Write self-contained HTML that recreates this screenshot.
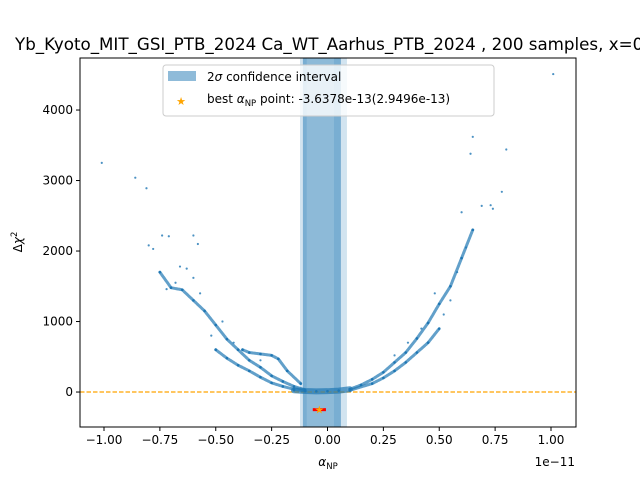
<!DOCTYPE html>
<html><head><meta charset="utf-8"><style>
body{margin:0;background:#fff;}
svg{display:block;font-family:"DejaVu Sans","Liberation Sans",sans-serif;}
</style></head><body>
<svg id="chart" width="640" height="480" viewBox="0 0 640 480">
<rect width="640" height="480" fill="#fff"/>
<text x="15" y="50" font-size="16.7">Yb_Kyoto_MIT_GSI_PTB_2024 Ca_WT_Aarhus_PTB_2024 , 200 samples, x=0</text>
<g id="plot"></g>
</svg>
<script>
const xTicks=[-1.0,-0.75,-0.5,-0.25,0,0.25,0.5,0.75,1.0];
const xTickLabels=["−1.00","−0.75","−0.50","−0.25","0.00","0.25","0.50","0.75","1.00"];
const yTicks=[0,1000,2000,3000,4000];
const yTickLabels=["0","1000","2000","3000","4000"];
const bandOuter=[-0.123,0.087];
const bandMid=[-0.110,0.060];
const bandInner=[-0.093,0.029];
const bestX=[-0.036378];
const bestErr=[0.029496];
const bestY=[-250];
const branchUL=[[-0.75,1700],[-0.7,1480],[-0.65,1450],[-0.6,1300],[-0.55,1150],[-0.5,950],[-0.45,750],[-0.4,600],[-0.35,450],[-0.3,350],[-0.25,230],[-0.2,150],[-0.15,80],[-0.1,30]];
const branchLL=[[-0.5,600],[-0.45,480],[-0.4,380],[-0.35,300],[-0.3,210],[-0.25,130],[-0.2,80],[-0.15,40],[-0.1,15]];
const branchMid=[[-0.38,600],[-0.35,560],[-0.3,540],[-0.25,520],[-0.22,470],[-0.18,300],[-0.12,120]];
const branchFlat=[[-0.15,25],[-0.1,15],[-0.05,10],[0,12],[0.05,20],[0.1,40]];
const branchR=[[0.1,40],[0.15,100],[0.2,180],[0.25,280],[0.3,420],[0.35,560],[0.4,760],[0.45,980],[0.5,1250],[0.55,1500],[0.6,1900],[0.65,2300]];
const branchLR=[[0.1,25],[0.2,120],[0.25,200],[0.3,300],[0.35,420],[0.4,560],[0.45,700],[0.5,900]];
const outliers=[[-1.01,3250],[-0.86,3040],[-0.81,2890],[-0.8,2080],[-0.78,2030],[-0.74,2220],[-0.71,2210],[-0.6,2220],[-0.58,2100],[1.01,4510],[0.65,3620],[0.8,3440],[0.64,3380],[0.78,2840],[0.73,2650],[0.69,2640],[0.74,2600],[0.6,2550],[-0.6,1620],[-0.63,1750],[-0.68,1550],[-0.72,1460],[-0.66,1780],[-0.57,1400],[-0.52,800],[-0.47,1000],[0.62,2050],[0.58,1700],[0.55,1300],[0.52,1100],[0.48,1400],[0.42,900],[-0.42,700],[-0.3,450],[0.3,520],[0.36,700]];
const X0=80,X1=576,Y0=58,Y1=427;
const xMin=-1.1074,xMax=1.1119,yMin=-496,yMax=4738;
const sx=v=>X0+(v-xMin)/(xMax-xMin)*(X1-X0);
const sy=v=>Y1-(v-yMin)/(yMax-yMin)*(Y1-Y0);
const NS="http://www.w3.org/2000/svg";
const g=document.getElementById('plot');
function mk(t,a,p){const e=document.createElementNS(NS,t);for(const k in a)e.setAttribute(k,a[k]);(p||g).appendChild(e);return e;}
let b;
b=mk('rect',{x:sx(bandOuter[0]),y:Y0,width:sx(bandOuter[1])-sx(bandOuter[0]),height:Y1-Y0,fill:'#1f77b4','fill-opacity':0.2});


b=mk('rect',{x:sx(bandMid[0]),y:Y0,width:sx(bandMid[1])-sx(bandMid[0]),height:Y1-Y0,fill:'#1f77b4','fill-opacity':0.5});


b=mk('rect',{x:sx(bandInner[0]),y:Y0,width:sx(bandInner[1])-sx(bandInner[0]),height:Y1-Y0,fill:'#ffffff','fill-opacity':0.15});


let zl=mk('line',{x1:X0,x2:X1,y1:sy(0),y2:sy(0),stroke:'orange','stroke-width':1.2,'stroke-dasharray':'4.5,2'});


[branchUL,branchLL,branchMid,branchFlat,branchR,branchLR].forEach((br,i)=>{
 const pl=mk('polyline',{points:br.map(p=>sx(p[0])+','+sy(p[1])).join(' '),fill:'none',stroke:'#1f77b4','stroke-width':i==3?6:3,'stroke-opacity':0.7,'stroke-linejoin':'round','stroke-linecap':'round','stroke-dasharray':i==3?'none':'2,1'});
 
 
 br.forEach(p=>{const c=mk('circle',{cx:sx(p[0]),cy:sy(p[1]),r:1.3,fill:'#1f77b4'});
 
 });
});
outliers.forEach(p=>{const c=mk('circle',{cx:sx(p[0]),cy:sy(p[1]),r:1.1,fill:'#1f77b4','fill-opacity':0.8});
 
 });
let eb=mk('line',{x1:sx(bestX[0]-bestErr[0]),x2:sx(bestX[0]+bestErr[0]),y1:sy(bestY[0]),y2:sy(bestY[0]),stroke:'red','stroke-width':3});


let st=mk('text',{x:sx(bestX[0]),y:sy(bestY[0])+4,'text-anchor':'middle','font-size':11,fill:'orange'});
st.textContent='★';


let fr=mk('rect',{x:X0,y:Y0,width:X1-X0,height:Y1-Y0,fill:'none',stroke:'#000','stroke-width':1});


xTicks.forEach((v,i)=>{mk('line',{x1:sx(v),x2:sx(v),y1:Y1,y2:Y1+4,stroke:'#000'});
 const t=mk('text',{x:sx(v),y:Y1+17,'text-anchor':'middle','font-size':12});t.textContent=xTickLabels[i];
 
 });
yTicks.forEach((v,i)=>{mk('line',{x1:X0-4,x2:X0,y1:sy(v),y2:sy(v),stroke:'#000'});
 const t=mk('text',{x:X0-7,y:sy(v)+4,'text-anchor':'end','font-size':12});t.textContent=yTickLabels[i];
 
 });
let t=mk('text',{x:575,y:466,'text-anchor':'end','font-size':12});t.textContent='1e−11';


t=mk('text',{x:328,y:466,'text-anchor':'middle','font-size':12,'font-style':'italic'});
t.innerHTML='α<tspan font-size="8.5" font-style="normal" dy="3">NP</tspan>';


t=mk('text',{x:0,y:0,'text-anchor':'middle','font-size':12,transform:'translate(22,242) rotate(-90)'});
t.innerHTML='Δ<tspan font-style="italic">χ</tspan><tspan font-size="8.5" dy="-5">2</tspan>';


const lg=mk('g',{});


mk('rect',{x:163,y:65,width:331,height:51,rx:3,fill:'#fff','fill-opacity':0.8,stroke:'#ccc'},lg);
const le1=mk('rect',{x:168,y:71,width:28,height:10,fill:'#1f77b4','fill-opacity':0.5},lg);


t=mk('text',{x:207,y:81,'font-size':12},lg);t.innerHTML='2<tspan font-style="italic">σ</tspan> confidence interval';


t=mk('text',{x:181,y:105,'font-size':11,fill:'orange','text-anchor':'middle'},lg);t.textContent='★';


t=mk('text',{x:207,y:103,'font-size':12},lg);t.innerHTML='best <tspan font-style="italic">α</tspan><tspan font-size="8.5" dy="3">NP</tspan><tspan dy="-3"> point: -3.6378e-13(2.9496e-13)</tspan>';


</script>
</body></html>
